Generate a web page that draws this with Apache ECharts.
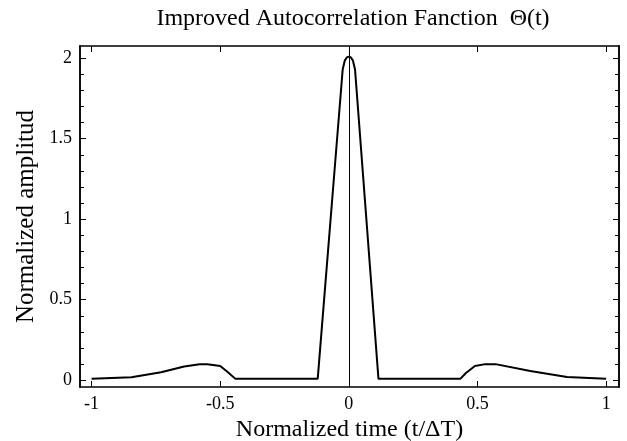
<!DOCTYPE html>
<html>
<head>
<meta charset="utf-8">
<script src="https://cdn.jsdelivr.net/npm/echarts@6/dist/echarts.min.js"></script>
<style>
  html, body { margin: 0; padding: 0; background: #fff; }
  #chart { width: 627px; height: 441px; }
</style>
</head>
<body>
<div id="chart"></div>
<script>
// curve: [t/ΔT, amplitude]
const curve = [
  [-1, 0.01], [-0.845, 0.018], [-0.73, 0.05], [-0.64, 0.085], [-0.58, 0.1],
  [-0.55, 0.1], [-0.5, 0.088], [-0.47, 0.05], [-0.442, 0.01], [-0.121, 0.01],
  [-0.024, 1.93], [-0.016, 1.985], [-0.008, 2.005], [0, 2.01], [0.008, 2.005],
  [0.016, 1.985], [0.024, 1.93], [0.115, 0.01], [0.434, 0.01], [0.455, 0.045],
  [0.49, 0.088], [0.53, 0.1], [0.57, 0.1], [0.705, 0.058], [0.848, 0.02], [1, 0.01]
]

const xTicks = [-1, -0.5, 0, 0.5, 1]
const yTicks = [0, 0.5, 1, 1.5, 2]
const yMinor = [0.1, 0.2, 0.3, 0.4, 0.6, 0.7, 0.8, 0.9, 1.1, 1.2, 1.3, 1.4, 1.6, 1.7, 1.8, 1.9]

const xRange = [-1.045, 1.05]
const yRange = [-0.042, 2.076]

const font = 'Liberation Serif'
const ink = '#000'

function xAx (pos, labels) {
  return {
    type: 'value',
    position: pos,
    min: xRange[0],
    max: xRange[1],
    splitLine: { show: false },
    axisLine: { show: true, onZero: false, lineStyle: { color: ink, width: 1.5 } },
    axisTick: { show: true, inside: true, length: 6, customValues: xTicks, lineStyle: { color: ink } },
    axisLabel: {
      show: labels,
      customValues: xTicks,
      margin: 8,
      fontFamily: font,
      fontSize: 18,
      color: ink
    }
  }
}

function yAx (pos, labels, ticks, len) {
  return {
    type: 'value',
    position: pos,
    min: yRange[0],
    max: yRange[1],
    splitLine: { show: false },
    axisLine: { show: true, onZero: false, lineStyle: { color: ink, width: 1.5 } },
    axisTick: { show: true, inside: true, length: len, customValues: ticks, lineStyle: { color: ink } },
    axisLabel: {
      show: labels,
      customValues: ticks,
      margin: 8,
      fontFamily: font,
      fontSize: 18,
      color: ink
    }
  }
}

const chart = echarts.init(document.getElementById('chart'))

const xBottom = xAx('bottom', true)
xBottom.name = 'Normalized time (t/ΔT)'
xBottom.nameLocation = 'middle'
xBottom.nameGap = 22
xBottom.nameTextStyle = { fontFamily: font, fontSize: 24, color: ink }

const yLeft = yAx('left', true, yTicks, 6)
yLeft.name = 'Normalized amplitud'
yLeft.nameLocation = 'middle'
yLeft.nameGap = 41
yLeft.nameTextStyle = { fontFamily: font, fontSize: 25, color: ink }

chart.setOption({
  animation: false,
  backgroundColor: '#fff',
  title: {
    text: 'Improved Autocorrelation Fanction  Θ(t)',
    left: 348,
    textAlign: 'center',
    top: 2,
    textStyle: { fontFamily: font, fontSize: 24, fontWeight: 'normal', color: ink }
  },
  grid: { left: 80, right: 8, top: 46, bottom: 54, outerBoundsMode: 'none' },
  xAxis: [xBottom, xAx('top', false)],
  yAxis: [
    yLeft,
    yAx('right', false, yTicks, 6),
    yAx('left', false, yMinor, 4),
    yAx('right', false, yMinor, 4)
  ],
  series: [{
    type: 'line',
    data: curve,
    showSymbol: false,
    lineStyle: { color: ink, width: 2 },
    markLine: {
      silent: true,
      symbol: 'none',
      label: { show: false },
      lineStyle: { color: ink, width: 1, type: 'solid' },
      data: [{ xAxis: 0 }]
    }
  }]
})
</script>
</body>
</html>
